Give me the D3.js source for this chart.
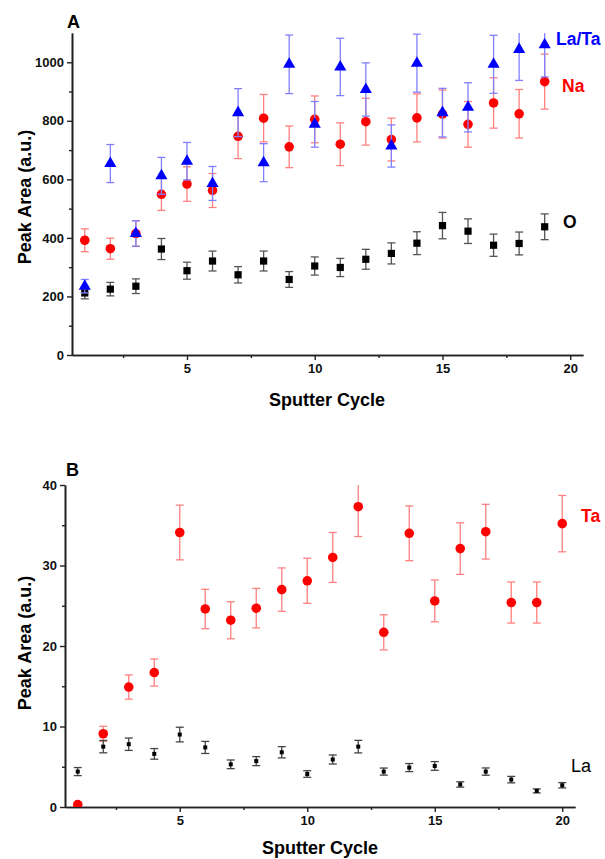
<!DOCTYPE html>
<html>
<head>
<meta charset="utf-8">
<script src="https://cdn.jsdelivr.net/npm/d3@7"></script>
<style>
  body { margin: 0; background: #fff; }
  svg text { font-family: "Liberation Sans", Arial, sans-serif; }
</style>
</head>
<body>
<script>
// panel A : sputter cycles 1..19
const cyclesA = d3.range(1, 20);
const oA    = [212, 225, 235, 362, 288, 321, 274, 321, 258, 304, 299, 327, 347, 382, 442, 423, 375, 381, 438];
const oErrA = [20, 23, 25, 36, 29, 34, 28, 34, 27, 31, 31, 34, 36, 39, 45, 42, 38, 39, 44];
const naA    = [392, 363, 415, 549, 584, 562, 747, 809, 711, 805, 720, 797, 736, 810, 823, 788, 861, 824, 934];
const naErrA = [39, 36, 43, 55, 59, 58, 76, 81, 71, 80, 73, 80, 73, 82, 82, 78, 86, 83, 94];
const ltA    = [235, 654, 415, 612, 662, 586, 828, 657, 993, 788, 984, 907, 714, 997, 828, 846, 993, 1044, 1060];
const ltErrA = [23, 65, 44, 63, 64, 58, 82, 65, 100, 78, 98, 91, 72, 99, 83, 84, 99, 106, 110];

// panel B : sputter cycles 1..20
const cyclesB = d3.range(1, 21);
const taB    = [0.3, 9.1, 14.9, 16.7, 34.1, 24.6, 23.2, 24.7, 27.0, 28.1, 31.0, 37.3, 21.7, 34.0, 25.6, 32.1, 34.2, 25.4, 25.4, 35.2];
const taErrB = [0, 0.93, 1.5, 1.68, 3.4, 2.45, 2.3, 2.45, 2.7, 2.8, 3.1, 3.7, 2.18, 3.4, 2.6, 3.2, 3.4, 2.55, 2.55, 3.5];
const laB    = [4.4, 7.5, 7.8, 6.6, 9.0, 7.4, 5.3, 5.7, 6.8, 4.1, 5.9, 7.5, 4.4, 4.9, 5.1, 2.8, 4.4, 3.4, 2.0, 2.7];
const laErrB = [0.5, 0.77, 0.77, 0.66, 0.91, 0.75, 0.54, 0.56, 0.7, 0.41, 0.56, 0.78, 0.44, 0.5, 0.54, 0.33, 0.45, 0.4, 0.25, 0.33];

const xTicks = [5, 10, 15, 20];
const xMinor = [2.5, 7.5, 12.5, 17.5];
const yTicksA = [0, 200, 400, 600, 800, 1000];
const yMinorA = [100, 300, 500, 700, 900];
const yTicksB = [0, 10, 20, 30, 40];
const yMinorB = [5, 15, 25, 35];

const svg = d3.select("body").append("svg")
  .attr("width", 605).attr("height", 859);

function panel(opt) {
  const x = d3.scaleLinear().domain([0.5, 20.5]).range([opt.left, opt.right]);
  const y = d3.scaleLinear().domain(opt.yDomain).range([opt.bottom, opt.top]);
  const g = svg.append("g");

  g.append("clipPath").attr("id", opt.id)
    .append("rect")
    .attr("x", opt.left).attr("y", opt.top)
    .attr("width", opt.right - opt.left).attr("height", opt.bottom - opt.top);

  // axes
  g.append("g").attr("transform", `translate(0,${opt.bottom})`)
    .call(d3.axisBottom(x).tickValues(xTicks).tickSize(5).tickSizeOuter(0).tickPadding(4).tickFormat(d3.format("d")));
  g.append("g").attr("transform", `translate(0,${opt.bottom})`)
    .call(d3.axisBottom(x).tickValues(xMinor).tickSize(3).tickSizeOuter(0).tickFormat(""));
  g.append("g").attr("transform", `translate(${opt.left},0)`)
    .call(d3.axisLeft(y).tickValues(opt.yTicks).tickSize(5).tickSizeOuter(0).tickPadding(3).tickFormat(d3.format("d")));
  g.append("g").attr("transform", `translate(${opt.left},0)`)
    .call(d3.axisLeft(y).tickValues(opt.yMinor).tickSize(3).tickSizeOuter(0).tickFormat(""));

  g.selectAll(".domain").attr("stroke", "#222").attr("stroke-width", 1.6);
  g.selectAll(".tick line").attr("stroke", "#222").attr("stroke-width", 1.4);
  g.selectAll(".tick text").attr("font-size", 13).attr("font-weight", "bold")
    .attr("fill", "#111").style("font-family", "Liberation Sans, Arial, sans-serif");

  // axis titles
  g.append("text")
    .attr("x", opt.xTitleX).attr("y", opt.xTitleY)
    .attr("text-anchor", "middle").attr("font-size", 18).attr("font-weight", "bold")
    .text("Sputter Cycle");
  g.append("text")
    .attr("transform", `translate(${opt.yTitleX},${opt.yTitleY}) rotate(-90)`)
    .attr("text-anchor", "middle").attr("font-size", 18).attr("font-weight", "bold")
    .text("Peak Area (a.u.)");
  g.append("text")
    .attr("x", opt.letterX).attr("y", opt.letterY)
    .attr("font-size", 18).attr("font-weight", "bold").text(opt.letter);

  const plot = g.append("g").attr("clip-path", `url(#${opt.id})`);

  opt.series.forEach(s => {
    const pts = s.cycles.map((c, i) => ({ c, v: s.values[i], e: s.errors[i] }));
    const eb = plot.append("g").attr("stroke", s.errColor).attr("stroke-width", 1.3).attr("fill", "none");
    const bars = pts.filter(d => d.e > 0);
    eb.selectAll("line.v").data(bars).join("line")
      .attr("x1", d => x(d.c)).attr("x2", d => x(d.c))
      .attr("y1", d => y(d.v - d.e)).attr("y2", d => y(d.v + d.e));
    eb.selectAll("line.t").data(bars).join("line")
      .attr("x1", d => x(d.c) - s.cap).attr("x2", d => x(d.c) + s.cap)
      .attr("y1", d => y(d.v + d.e)).attr("y2", d => y(d.v + d.e));
    eb.selectAll("line.b").data(bars).join("line")
      .attr("x1", d => x(d.c) - s.cap).attr("x2", d => x(d.c) + s.cap)
      .attr("y1", d => y(d.v - d.e)).attr("y2", d => y(d.v - d.e));

    plot.append("g").selectAll("path").data(pts).join("path")
      .attr("transform", d => `translate(${x(d.c)},${y(d.v)})`)
      .attr("d", d3.symbol().type(s.symbol).size(s.size))
      .attr("fill", s.color);
  });

  opt.labels.forEach(l => {
    g.append("text").attr("x", l.x).attr("y", l.y)
      .attr("font-size", l.size).attr("font-weight", l.weight)
      .attr("fill", l.color).text(l.text);
  });
}

panel({
  id: "clipA", left: 72, right: 583, top: 33, bottom: 355,
  yDomain: [0, 1100], yTicks: yTicksA, yMinor: yMinorA,
  xTitleX: 327, xTitleY: 406, yTitleX: 31, yTitleY: 197,
  letter: "A", letterX: 67, letterY: 28,
  series: [
    { cycles: cyclesA, values: oA, errors: oErrA, color: "#000", errColor: "#555",
      symbol: d3.symbolSquare, size: 52, cap: 4 },
    { cycles: cyclesA, values: naA, errors: naErrA, color: "#ff0000", errColor: "#ff8080",
      symbol: d3.symbolCircle, size: 72, cap: 4 },
    { cycles: cyclesA, values: ltA, errors: ltErrA, color: "#0000ff", errColor: "#8080ff",
      symbol: d3.symbolTriangle, size: 64, cap: 4 }
  ],
  labels: [
    { text: "La/Ta", x: 556, y: 45, size: 17.5, weight: "bold", color: "#0000ff" },
    { text: "Na", x: 562, y: 92, size: 17.5, weight: "bold", color: "#ff0000" },
    { text: "O", x: 563, y: 228, size: 17.5, weight: "bold", color: "#000" }
  ]
});

panel({
  id: "clipB", left: 65, right: 575, top: 485, bottom: 807,
  yDomain: [0, 40], yTicks: yTicksB, yMinor: yMinorB,
  xTitleX: 320, xTitleY: 854, yTitleX: 31, yTitleY: 643,
  letter: "B", letterX: 66, letterY: 476,
  series: [
    { cycles: cyclesB, values: taB, errors: taErrB, color: "#ff0000", errColor: "#ff8080",
      symbol: d3.symbolCircle, size: 72, cap: 4 },
    { cycles: cyclesB, values: laB, errors: laErrB, color: "#000", errColor: "#444",
      symbol: d3.symbolSquare, size: 16, cap: 4 }
  ],
  labels: [
    { text: "Ta", x: 581, y: 522, size: 17.5, weight: "bold", color: "#ff0000" },
    { text: "La", x: 571, y: 772, size: 18, weight: "normal", color: "#000" }
  ]
});
</script>
</body>
</html>
